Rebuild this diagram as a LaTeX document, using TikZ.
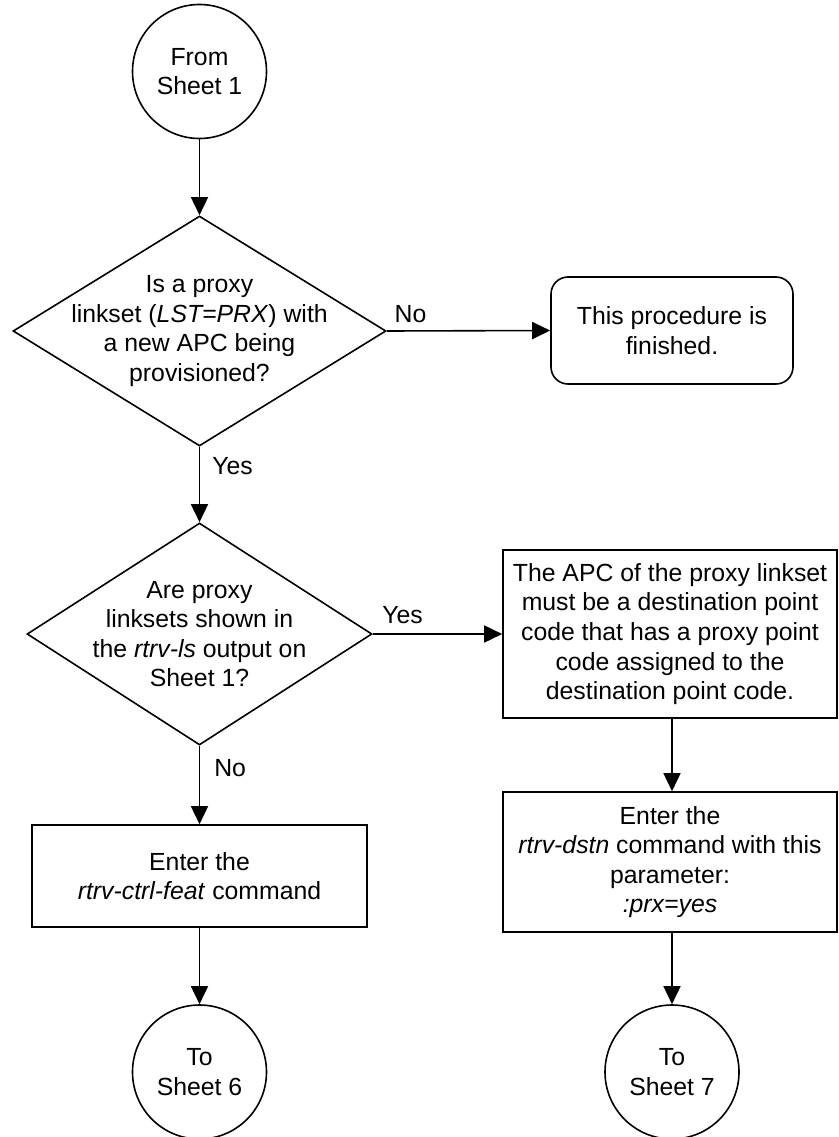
\documentclass[tikz,border=0pt]{standalone}
\usepackage{fontspec}
\setmainfont{Liberation Sans}
\usetikzlibrary{shapes.geometric,arrows.meta}
\begin{document}
\begin{tikzpicture}[x=1pt,y=-1pt,
  every node/.style={font=\fontsize{24.8}{29.6}\selectfont},
  base/.style={draw, line width=1.6pt, inner sep=0pt},
  conn/.style={base, circle, minimum size=134pt},
  dia/.style={base, diamond},
  proc/.style={base, rectangle},
  term/.style={base, rectangle, rounded corners=17pt},
  txt/.style={align=center, inner sep=0pt},
  arr/.style={line width=1.6pt, -{Triangle[length=18pt,width=17pt]}},
  lab/.style={inner sep=0pt}]
\useasboundingbox (0,0) rectangle (838,1137);
\fill[white] (0,0) rectangle (838,1137);

% nodes
\node[conn] (from) at (199.5,71.5) {};
\node[txt] at (from) {From\\Sheet 1};

\node[dia, minimum width=373pt, minimum height=230pt] (d1) at (199.5,331) {};
\node[txt] at (d1) {Is a proxy\\linkset (\textit{LST=PRX}) with\\a new APC being\\provisioned?};

\node[term, minimum width=242pt, minimum height=107pt] (fin) at (672,330.5) {};
\node[txt] at (fin) {This procedure is\\finished.};

\node[dia, minimum width=345pt, minimum height=222pt] (d2) at (199.5,634) {};
\node[txt] at (d2) {Are proxy\\linksets shown in\\the \textit{rtrv-ls} output on\\Sheet 1?};

\node[proc, minimum width=334pt, minimum height=168pt] (apc) at (670,634) {};
\node[txt] at (apc) {The APC of the proxy linkset\\must be a destination point\\code that has a proxy point\\code assigned to the\\destination point code.};

\node[proc, minimum width=335pt, minimum height=102pt] (feat) at (199.5,876) {};
\node[txt] at (feat) {Enter the\\\textit{rtrv-ctrl-feat} command};

\node[proc, minimum width=334pt, minimum height=140pt] (dstn) at (670,862) {};
\node[txt] at (dstn) {Enter the\\\textit{rtrv-dstn} command with this\\parameter:\\\textit{:prx=yes}};

\node[conn] (s6) at (199.5,1072) {};
\node[txt] at (s6) {To\\Sheet 6};

\node[conn] (s7) at (672,1072) {};
\node[txt] at (s7) {To\\Sheet 7};

% connectors
\draw[arr] (from) -- (d1);
\draw[arr] (d1.east) -- node[lab, pos=0.145, yshift=17pt] {No} (fin.west);
\draw[arr] (d1.south) -- node[lab, pos=0.25, anchor=west, xshift=12pt] {Yes} (d2.north);
\draw[arr] (d2.east) -- node[lab, pos=0.23, yshift=19pt] {Yes} (apc.west);
\draw[arr] (d2.south) -- node[lab, pos=0.29, anchor=west, xshift=14pt] {No} (feat.north);
\draw[arr] (apc.south -| s7) -- (dstn.north -| s7);
\draw[arr] (feat) -- (s6);
\draw[arr] (dstn.south -| s7) -- (s7);
\end{tikzpicture}
\end{document}
